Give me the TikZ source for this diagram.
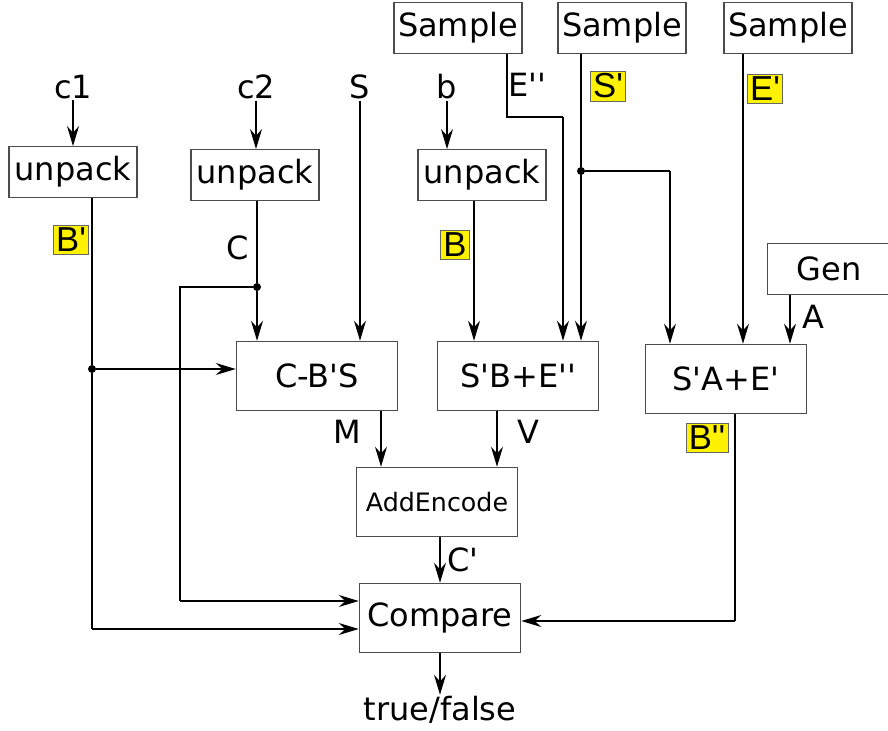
\documentclass[tikz,border=0pt]{standalone}
\usepackage{fontspec}
\setmainfont{DejaVu Sans}[Ligatures=TeXOff]
\newfontfamily\hlfont{Liberation Sans}
\usetikzlibrary{arrows.meta}
\tikzstyle{blk}=[draw=black!70,line width=.9pt,minimum width=96pt,minimum height=38pt,inner sep=1pt,font=\fontsize{24}{28}\selectfont]
\tikzstyle{op}=[blk,minimum width=121pt,minimum height=52pt]
\tikzstyle{lbl}=[inner sep=1pt,font=\fontsize{24}{28}\selectfont]
\tikzstyle{hl}=[fill=yellow,draw=black!60,line width=.5pt,inner sep=2pt,font=\hlfont\fontsize{26}{30}\selectfont]
\tikzstyle{dot}=[circle,fill=black,inner sep=0pt,minimum size=6pt]
\tikzstyle{wire}=[line width=1pt,-{Stealth[length=15pt,width=9pt,inset=5pt]}]
\tikzstyle{line}=[line width=1pt]

\begin{document}
\begin{tikzpicture}[x=.75pt,y=-.75pt]
\useasboundingbox (0,0) rectangle (888,731);
% sources
\node[blk] (smp1) at (458,28) {Sample}; \node[blk] (smp2) at (622,28) {Sample}; \node[blk] (smp3) at (788,28) {Sample};
\node[blk,minimum width=92pt] (gen) at (829,269) {Gen};
\node[lbl] (c1) at (73,87) {c1}; \node[lbl] (c2) at (256,87) {c2}; \node[lbl] (s) at (360,87) {S}; \node[lbl] (b) at (447,87) {b};
\node[blk] (unp1) at (73,172) {unpack}; \node[blk] (unp2) at (255,175) {unpack}; \node[blk] (unp3) at (482,175) {unpack};
% operations
\node[op] (cbs) at (317,376) {C-B'S}; \node[op] (sbe) at (518,376) {S'B+E''}; \node[op] (sae) at (726,379) {S'A+E'};
\node[op,font=\fontsize{19}{22}\selectfont] (add) at (437,502) {AddEncode};
\node[op] (cmp) at (440,618) {Compare};
\node[lbl] (tf) at (440,710) {true/false};
% labels
\node[hl] (lbp) at (71,240) {B'}; \node[lbl] (lc) at (238,248) {C}; \node[hl] (lb) at (455,245) {B};
\node[lbl] (le2) at (527,85) {E''}; \node[hl] (lsp) at (608,86) {S'}; \node[hl] (lep) at (765,89) {E'};
\node[lbl] (la) at (813,317) {A}; \node[lbl] (lm) at (347,432) {M}; \node[lbl] (lv) at (528,432) {V};
\node[hl] (lbpp) at (707,438) {B''}; \node[lbl] (lcp) at (463,560) {C'};
% junctions
\node[dot] (jb) at (92,369) {}; \node[dot] (jc) at (257,287) {}; \node[dot] (js) at (581,171) {};
\coordinate (e2a) at (507,117); \coordinate (e2b) at (563,117);
\coordinate (lpa) at (180,287); \coordinate (lpb) at (180,601);
\coordinate (bpa) at (92,629); \coordinate (jsa) at (670,171); \coordinate (bpb) at (735,621);
% wires
\draw[wire] (c1) -- (unp1); \draw[wire] (c2) -- (c2 |- unp2.north); \draw[wire] (b) -- (b |- unp3.north);
\draw[line] (jb |- unp1.south) -- (jb); \draw[wire] (jb) -- (jb -| cbs.west);
\draw[line] (jb) -- (bpa); \draw[wire] (bpa) -- (bpa -| cmp.west);
\draw[line] (jc |- unp2.south) -- (jc); \draw[wire] (jc) -- (jc |- cbs.north);
\draw[line] (jc) -- (lpa) -- (lpb); \draw[wire] (lpb) -- (lpb -| cmp.west);
\draw[wire] (s) -- (s |- cbs.north);
\draw[wire] (474,0 |- unp3.south) -- (474,0 |- sbe.north);
\draw[line] (e2a |- smp1.south) -- (e2a) -- (e2b); \draw[wire] (e2b) -- (e2b |- sbe.north);
\draw[line] (js |- smp2.south) -- (js); \draw[wire] (js) -- (js |- sbe.north);
\draw[line] (js) -- (jsa); \draw[wire] (jsa) -- (jsa |- sae.north);
\draw[wire] (743,0 |- smp3.south) -- (743,0 |- sae.north);
\draw[wire] (790,0 |- gen.south) -- (790,0 |- sae.north);
\draw[wire] (381,0 |- cbs.south) -- (381,0 |- add.north); \draw[wire] (497,0 |- sbe.south) -- (497,0 |- add.north);
\draw[wire] (cmp.north |- add.south) -- (cmp.north);
\draw[line] (bpb |- sae.south) -- (bpb); \draw[wire] (bpb) -- (bpb -| cmp.east);
\draw[wire] (cmp) -- (tf);
\end{tikzpicture}
\end{document}
